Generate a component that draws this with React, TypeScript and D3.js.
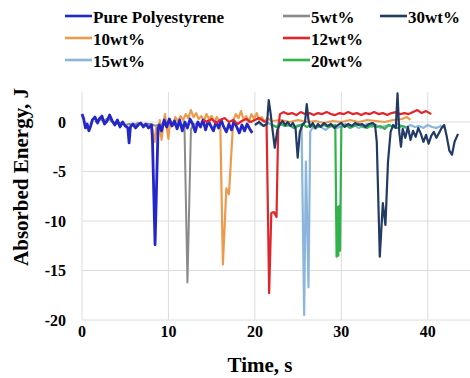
import React from "react";
import * as d3 from "d3";

// ---------- data ----------
const pureT = [0,0.2,0.4,0.6,0.8,1.0,1.2,1.5,1.8,2.0,2.3,2.6,2.9,3.2,3.5,3.8,4.1,4.4,4.7,5.0,5.3,5.45,5.6,5.9,6.2,6.5,6.8,7.1,7.4,7.7,8.05,8.15,8.45,8.8,8.95,9.2,9.5,9.8,10.1,10.4,10.7,11.0,11.3,11.6,11.9,12.2,12.5,12.8,13.1,13.4,13.7,14.0,14.3,14.6,14.9,15.2,15.5,15.8,16.1,16.4,16.7,17.0,17.3,17.6,17.9,18.2,18.5,18.8,19.1,19.4,19.7];
const pureV = [0.8,0.3,-0.6,-0.2,-0.9,-0.4,0.2,0.5,-0.1,0.3,0.6,-0.2,0.1,0.7,0.1,-0.3,0.2,-0.5,0.0,-0.4,-0.6,-2.1,-0.5,-0.2,-0.6,-0.3,-0.1,-0.5,-0.2,-0.6,-0.3,-1.8,-12.4,-0.6,-0.3,-0.9,0.2,-0.5,0.3,-0.4,0.1,-0.7,0.2,-0.9,0.0,-0.6,0.3,-0.2,-1.0,0.0,-0.5,0.2,-0.8,0.1,-0.4,-0.9,0.0,-0.6,0.2,-0.5,-1.0,-0.2,-0.8,0.1,-0.5,-1.1,-0.3,-0.9,-0.2,-0.7,-1.1];

const w5T = [1.5,2.0,2.5,3.0,3.5,4.0,4.5,5.0,5.5,6.0,6.5,7.0,7.5,8.0,8.5,9.0,9.5,10.0,10.5,11.0,11.5,11.85,12.2,12.6,12.8,13.2,13.6];
const w5V = [0.0,0.3,0.1,0.4,0.0,-0.2,-0.1,-0.3,-0.2,-0.3,-0.1,-0.3,-0.2,-0.2,-0.4,-0.2,-0.3,-0.1,-0.3,-0.2,-0.3,-0.3,-16.2,-0.8,-0.3,-0.2,-0.3];

const w10T = [8.0,8.2,8.4,8.6,8.8,9.0,9.2,9.4,9.6,9.8,10.0,10.2,10.5,10.8,11.1,11.4,11.7,12.0,12.3,12.6,12.9,13.2,13.5,13.8,14.1,14.4,14.7,15.0,15.3,15.6,15.9,16.0,16.3,16.7,17.0,17.5,17.8,18.1,18.4,18.7,19.0,19.3,19.6,19.9,20.2,20.5,20.8,21.1,21.4,22.0,23.0,24.0,25.0,26.0,27.0,28.0,29.0,30.0,31.0,32.0,33.0,34.0,35.0,36.0,37.0,37.6,38.0];
const w10V = [-0.2,-1.0,-2.0,-0.5,-1.5,0.2,-1.8,-0.3,0.8,-0.5,-1.7,0.3,-0.4,0.5,0.0,0.6,0.2,0.8,0.4,1.2,0.5,0.9,0.3,0.6,0.1,0.8,0.3,0.6,0.0,0.5,0.1,-0.3,-14.4,-6.7,-7.3,0.2,0.8,0.4,1.1,0.2,0.6,0.0,0.8,0.3,0.9,0.2,0.5,0.0,0.4,0.1,0.2,0.0,0.2,0.0,0.1,-0.1,0.1,0.0,0.2,0.0,0.2,0.1,0.0,0.2,0.3,0.5,0.2];

const w12T = [14.0,14.5,15.0,15.5,16.0,16.5,17.0,17.5,18.0,18.5,19.0,19.5,20.0,20.5,21.0,21.35,21.65,21.9,22.2,22.5,22.7,22.9,23.3,23.8,24.3,24.8,25.3,25.8,26.3,26.8,27.3,27.8,28.3,28.8,29.3,29.8,30.3,30.8,31.3,31.8,32.3,32.8,33.3,33.8,34.3,34.8,35.3,35.8,36.3,36.8,37.3,37.8,38.3,38.8,39.3,39.8,40.4];
const w12V = [0.2,0.0,0.3,-0.1,0.2,0.4,0.0,0.2,-0.2,0.1,0.3,0.0,0.2,0.4,0.1,0.0,-17.3,-9.2,-9.1,-9.6,-0.5,0.8,1.0,0.8,0.9,0.7,1.0,0.8,0.9,0.7,0.9,0.8,1.0,0.8,0.7,0.9,0.8,1.0,0.8,0.9,0.7,0.9,0.8,1.0,0.8,0.9,0.7,0.9,1.0,0.8,0.9,0.8,1.0,1.2,0.9,1.1,0.8];

const w15T = [20.5,21.0,21.5,22.0,22.5,23.0,23.5,24.0,24.5,25.0,25.4,25.7,25.9,26.0,26.2,26.4,26.7,27.0,27.4,27.8,28.2,28.6,29.0,29.5,30.0,30.5,31.0,31.5,32.0,32.5,33.0,33.5,34.0,34.5,35.0,35.5,36.0,36.5,37.0,37.5,38.0,38.5,39.0,39.5,40.0,40.5,41.0,41.5,42.0];
const w15V = [-0.2,-0.4,-0.1,-0.3,-0.5,-0.2,-0.4,-0.3,-0.6,-0.3,-0.5,-19.5,-4.0,-8.0,-16.7,-1.0,-0.5,-0.7,-0.3,-0.6,-0.8,-0.5,-0.3,-0.6,-0.4,-0.2,-0.5,-0.3,-0.6,-0.4,-0.2,-0.5,-0.3,-0.6,-0.4,-0.3,-0.5,-0.2,-0.4,-0.6,-0.3,-0.5,-0.4,-0.6,-0.3,-0.5,-0.6,-0.4,-0.6];

const w20T = [22.0,22.5,23.0,23.5,24.0,24.5,25.0,25.5,26.0,26.5,27.0,27.5,28.0,28.5,29.0,29.3,29.45,29.55,29.65,29.75,29.85,30.0,30.5,31.0,31.5,32.0,32.5,33.0,33.5,34.0,34.5,35.0,35.5,36.0,36.5,37.0,37.5];
const w20V = [-0.3,-0.5,-0.2,-0.4,-0.3,-0.6,-0.4,-0.2,-0.5,-0.3,-0.6,-0.4,-0.3,-0.5,-0.4,-0.3,-13.6,-8.6,-13.5,-8.5,-13.0,-0.5,-0.3,-0.6,-0.4,-0.2,-0.5,-0.6,-0.3,-0.5,-0.4,-0.7,-0.3,-0.5,-0.6,-0.4,-0.5];

const w30T = [20.0,20.5,21.0,21.4,21.6,21.8,22.0,22.3,22.6,22.9,23.2,23.5,23.8,24.1,24.4,24.7,24.95,25.2,25.5,25.8,26.0,26.2,26.4,26.7,27.0,27.3,27.6,28.0,28.4,28.8,29.2,29.6,30.0,30.4,30.8,31.2,31.6,32.0,32.4,32.8,33.2,33.6,33.9,34.1,34.45,34.8,35.1,35.4,35.7,36.0,36.3,36.5,36.7,36.9,37.1,37.4,37.7,38.0,38.3,38.6,38.9,39.2,39.5,39.8,40.1,40.4,40.7,41.0,41.3,41.6,41.9,42.2,42.5,42.8,43.1,43.5];
const w30V = [-0.3,0.0,-0.4,-0.2,2.2,1.0,-0.5,-2.6,-0.8,-0.2,0.1,-0.3,0.0,-0.4,-0.1,-0.6,-3.6,-1.0,-0.3,0.0,1.8,0.2,-0.5,-0.1,-0.6,-0.2,-0.5,-0.1,-0.4,-0.2,-0.6,-0.3,-0.1,-0.5,-0.2,-0.4,-0.1,-0.3,-0.2,-0.5,-0.2,-0.1,-0.3,-2.0,-13.6,-8.2,-10.4,-4.0,-1.0,-0.3,-0.6,2.9,-1.0,-2.5,-0.7,-1.6,-0.5,-1.8,-0.9,-1.5,-0.6,-1.2,-2.0,-1.3,-2.2,-1.4,-1.0,-1.6,-1.1,-0.6,-0.3,-1.5,-2.9,-3.3,-2.0,-1.2];

const xTicks = [0, 10, 20, 30, 40];
const yTicks = [0, -5, -10, -15, -20];

// legend order (row by row)
const seriesNames = ["Pure Polyestyrene", "5wt%", "30wt%", "10wt%", "12wt%", "15wt%", "20wt%"];

const series = [
  { name: "5wt%", t: w5T, v: w5V, color: "#8a8a8a", w: 2 },
  { name: "10wt%", t: w10T, v: w10V, color: "#ee9a4d", w: 2.2 },
  { name: "Pure Polyestyrene", t: pureT, v: pureV, color: "#2326c9", w: 2.8 },
  { name: "12wt%", t: w12T, v: w12V, color: "#e0262b", w: 2.2 },
  { name: "15wt%", t: w15T, v: w15V, color: "#8cb5dd", w: 2.2 },
  { name: "20wt%", t: w20T, v: w20V, color: "#2fb34a", w: 2.2 },
  { name: "30wt%", t: w30T, v: w30V, color: "#223a66", w: 2.2 },
];

const legendPos: Record<string, [number, number]> = {
  "Pure Polyestyrene": [65, 16],
  "5wt%": [283, 16],
  "30wt%": [380, 16],
  "10wt%": [65, 38],
  "12wt%": [283, 38],
  "15wt%": [65, 60],
  "20wt%": [283, 60],
};

const FONT = "'Liberation Serif', 'Times New Roman', serif";

export default function App() {
  const x = d3.scaleLinear().domain([0, 45]).range([82, 471]);
  const y = d3.scaleLinear().domain([-20, 3]).range([320, 92.3]);
  const line = (t: number[], v: number[]) =>
    d3.line<number>().x((_, i) => x(t[i])).y((d) => y(d)).curve(d3.curveLinear)(v) || "";

  return (
    <svg width={470} height={378} style={{ position: "absolute", left: 0, top: 0, background: "#fff" }}>
      {xTicks.map((d) => (
        <line key={"gx" + d} x1={x(d)} x2={x(d)} y1={y(3)} y2={y(-20)} stroke="#dcdcdc" strokeWidth={1} />
      ))}
      {yTicks.map((d) => (
        <line key={"gy" + d} x1={x(0)} x2={470} y1={y(d)} y2={y(d)} stroke="#dcdcdc" strokeWidth={1} />
      ))}
      {series.map((s) => (
        <path key={s.name} d={line(s.t, s.v)} fill="none" stroke={s.color} strokeWidth={s.w} strokeLinejoin="round" />
      ))}
      {xTicks.map((d) => (
        <text key={"tx" + d} x={x(d)} y={337} textAnchor="middle" fontFamily={FONT} fontWeight="bold" fontSize={16}>
          {d}
        </text>
      ))}
      {yTicks.map((d) => (
        <text key={"ty" + d} x={66} y={y(d) + 5.5} textAnchor="end" fontFamily={FONT} fontWeight="bold" fontSize={16}>
          {d}
        </text>
      ))}
      <text x={260} y={372} textAnchor="middle" fontFamily={FONT} fontWeight="bold" fontSize={21}>
        Time, s
      </text>
      <text transform="translate(28,177) rotate(-90)" textAnchor="middle" fontFamily={FONT} fontWeight="bold" fontSize={21}>
        Absorbed Energy, J
      </text>
      {seriesNames.map((n) => {
        const s = series.find((q) => q.name === n)!;
        const [lx, ly] = legendPos[n];
        return (
          <g key={"lg" + n}>
            <line x1={lx} x2={lx + 27} y1={ly} y2={ly} stroke={s.color} strokeWidth={2.6} />
            <text x={lx + 28} y={ly + 7} fontFamily={FONT} fontWeight="bold" fontSize={17}>
              {n}
            </text>
          </g>
        );
      })}
    </svg>
  );
}
